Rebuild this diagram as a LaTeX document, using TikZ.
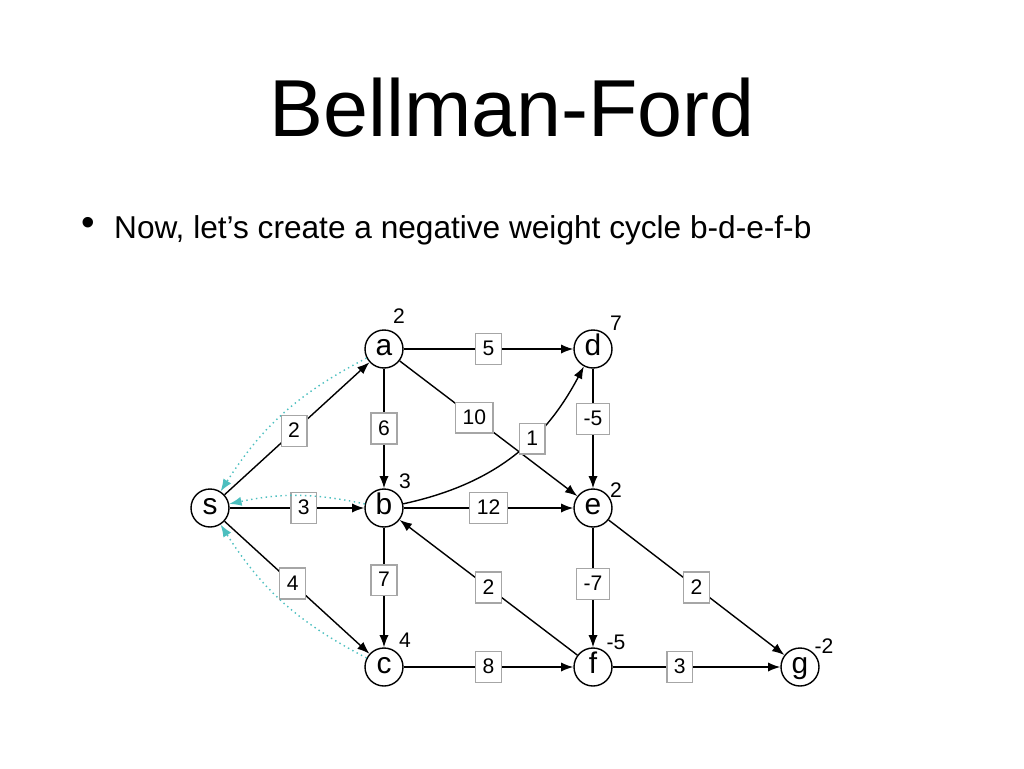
\documentclass[tikz,border=0pt]{standalone}
\usepackage{fontspec}
\setmainfont{Liberation Sans}
\usetikzlibrary{arrows.meta}
\definecolor{trail cyan}{rgb}{0.3, 0.75, 0.75}

\tikzset{
  vert/.style={circle, draw, thick, minimum size=0.76cm, inner sep=0pt, text height=1.6ex, text depth=0.1ex, font=\fontsize{17}{17}\selectfont},
  wbox/.style={draw=gray!70, fill=white, inner sep=4pt, text height=1.6ex, text depth=0.2ex, font=\fontsize{12}{12}\selectfont},
  dist/.style={font=\fontsize{12}{12}\selectfont},
  edge/.style={-{Latex[length=7pt]}, thick},
  trail/.style={-{Latex[length=7pt]}, thick, dotted, trail cyan}
}

\begin{document}
\begin{tikzpicture}[x=0.02cm, y=-0.02cm]
			\useasboundingbox (0,0) rectangle (1024,768);
			% heading
			\node (title) at (512,108) {\fontsize{46}{46}\selectfont Bellman-Ford};
			\node (dot) at (88,226) {\fontsize{22}{22}\selectfont\textbullet};
			\node[anchor=west] (line) at (108,230) {\fontsize{18}{18}\selectfont Now, let\symbol{39}s create a negative weight cycle b-d-e-f-b};
			% vertices
			\node[vert] (a) at (384,349) {a};
			\node[vert] (d) at (593,349) {d};
			\node[vert] (s) at (210,508) {s};
			\node[vert] (b) at (384,508) {b};
			\node[vert] (e) at (593,508) {e};
			\node[vert] (c) at (384,667) {c};
			\node[vert] (f) at (593,667) {f};
			\node[vert] (g) at (800,667) {g};
			% distances
			\node[dist] (da) at (399,316) {2};
			\node[dist] (dd) at (616,323) {7};
			\node[dist] (db) at (405,481) {3};
			\node[dist] (de) at (616,490) {2};
			\node[dist] (dc) at (405,640) {4};
			\node[dist] (df) at (616,642) {-5};
			\node[dist] (dg) at (824,646) {-2};
			% edges
			\draw[edge] (a) -- node[wbox] {5} (d);
			\draw[edge] (a) -- node[wbox] {6} (b);
			\draw[edge] (a) -- node[wbox, pos=0.42] {10} (e);
			\draw[edge] (b) to[bend right=25] node[wbox, pos=0.63] {1} (d);
			\draw[edge] (d) -- node[wbox, pos=0.42] {-5} (e);
			\draw[edge] (s) -- node[wbox, pos=0.48] {2} (a);
			\draw[edge] (s) -- node[wbox, pos=0.55] {3} (b);
			\draw[edge] (b) -- node[wbox, pos=0.5] {12} (e);
			\draw[edge] (s) -- node[wbox, pos=0.47] {4} (c);
			\draw[edge] (b) -- node[wbox, pos=0.44] {7} (c);
			\draw[edge] (f) -- node[wbox] {2} (b);
			\draw[edge] (e) -- node[wbox, pos=0.47] {-7} (f);
			\draw[edge] (e) -- node[wbox, pos=0.5] {2} (g);
			\draw[edge] (c) -- node[wbox] {8} (f);
			\draw[edge] (f) -- node[wbox, pos=0.4] {3} (g);
			% predecessor trail
			\draw[trail] (a) to[bend right=15] (s);
			\draw[trail] (b) to[bend right=12] (s);
			\draw[trail] (c) to[bend left=15] (s);
		\end{tikzpicture}
\end{document}
